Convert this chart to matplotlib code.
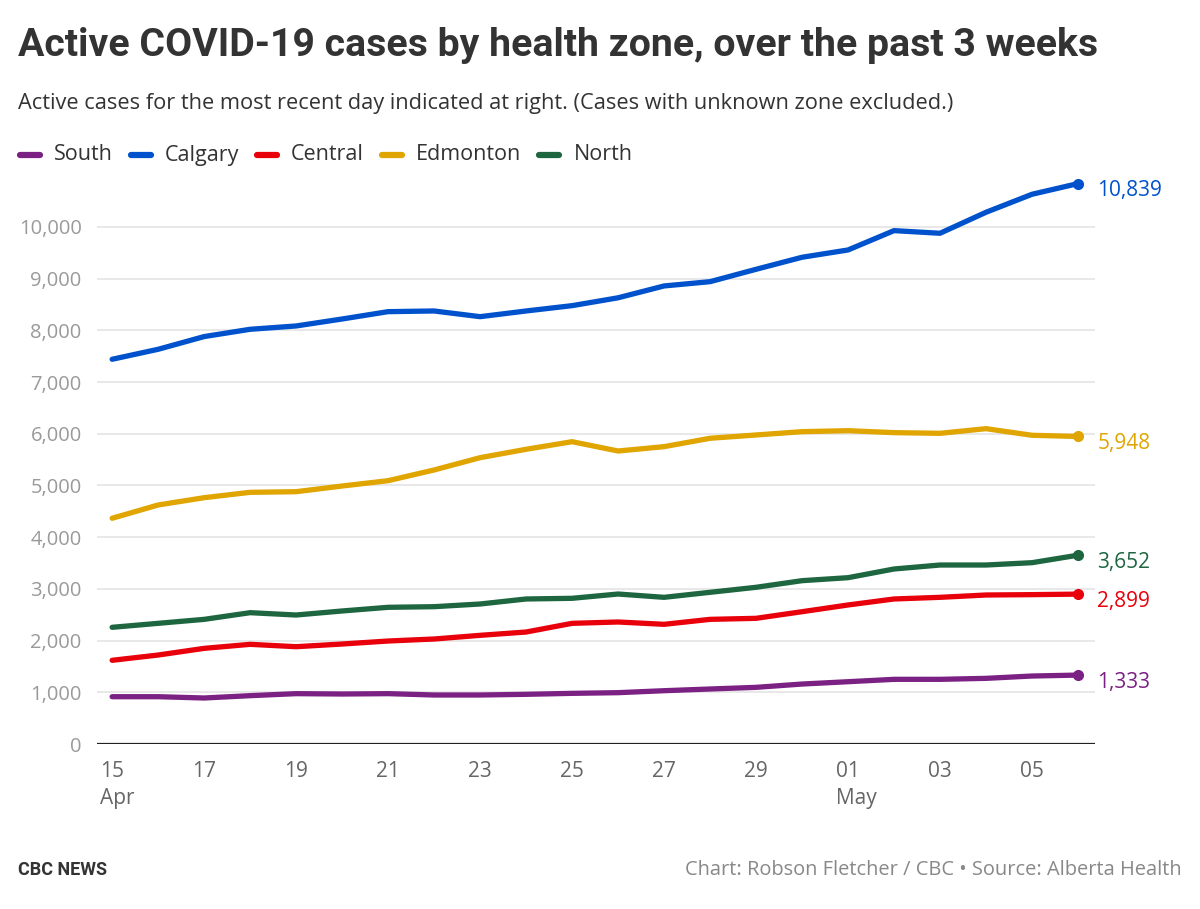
import numpy as np
import pandas as pd
import matplotlib
matplotlib.use('Agg')
import matplotlib.pyplot as plt
import matplotlib.transforms as mtrans
from matplotlib.lines import Line2D

plt.rcParams['font.family'] = ['Open Sans', 'DejaVu Sans']

# data, Apr 15 - May 6
dates = pd.date_range('2021-04-15', '2021-05-06', freq='D')
south = [915, 915, 890, 935, 974, 967, 974, 948, 948, 961, 980,
         993, 1031, 1064, 1096, 1160, 1205, 1251, 1251, 1270, 1315, 1333]
calgary = [7441, 7634, 7880, 8021, 8085, 8220, 8362, 8375, 8265, 8375, 8478,
           8630, 8859, 8942, 9181, 9414, 9555, 9929, 9878, 10284, 10632, 10839]
central = [1619, 1721, 1850, 1928, 1882, 1934, 1992, 2031, 2102, 2166, 2334,
           2360, 2315, 2411, 2431, 2559, 2689, 2805, 2837, 2882, 2889, 2899]
edmonton = [4366, 4623, 4764, 4868, 4880, 4990, 5093, 5300, 5538, 5700, 5847,
            5667, 5751, 5913, 5977, 6041, 6060, 6022, 6009, 6099, 5971, 5948]
north = [2257, 2334, 2411, 2540, 2495, 2573, 2644, 2656, 2708, 2805, 2818,
         2901, 2837, 2934, 3031, 3159, 3217, 3385, 3462, 3462, 3507, 3652]

names = ['South', 'Calgary', 'Central', 'Edmonton', 'North']
series = [south, calgary, central, edmonton, north]
colors = ['#7b2183', '#0052cc', '#e8000b', '#e0a500', '#1d6640']

fig = plt.figure(figsize=(12, 9.09), dpi=100)
ax = fig.add_axes([0.0808, 0.1815, 0.8317, 0.6257])

x = np.arange(len(dates))
for vals, c in zip(series, colors):
    ax.plot(x, vals, color=c, lw=3.8, solid_capstyle='round', solid_joinstyle='round', zorder=3)
    ax.plot(x[-1], vals[-1], 'o', color=c, ms=7, zorder=4)
    ax.annotate(f'{vals[-1]:,}', (x[-1], vals[-1]), xytext=(14, -5), textcoords='offset points',
                color=c, fontsize=15, va='center', ha='left', annotation_clip=False)

ax.set_xlim(-0.33, len(dates) - 1 + 0.37)
ax.set_ylim(0, 11000)
ax.set_yticks(range(0, 10001, 1000))
ax.set_yticklabels([f'{v:,}' for v in range(0, 10001, 1000)])
ax.grid(axis='y', color='#e1e1e1', lw=1.1, zorder=0)
ax.axhline(0, color='#222222', lw=1.6, zorder=2)

tick_idx = list(range(0, len(dates), 2))
tick_lbl = []
for i in tick_idx:
    d = dates[i]
    lbl = d.strftime('%d')
    if i == 0 or d.day == 1:
        lbl += '\n' + d.strftime('%b')
    tick_lbl.append(lbl)
ax.set_xticks(tick_idx)
ax.set_xticklabels(tick_lbl, ha='left', linespacing=1.4)

ax.tick_params(axis='x', length=0, pad=12, labelsize=15, labelcolor='#666666')
ax.tick_params(axis='y', length=0, pad=11, labelsize=14.5, labelcolor='#9a9a9a')
for s in ax.spines.values():
    s.set_visible(False)

# x labels start a bit left of the point
off = mtrans.ScaledTranslation(-12 / 100, 0, fig.dpi_scale_trans)
for t in ax.get_xticklabels():
    t.set_transform(t.get_transform() + off)

fig.text(18 / 1200, 1 - 45 / 909, 'Active COVID-19 cases by health zone, over the past 3 weeks',
         fontsize=28.3, fontweight='bold', color='#333333', va='center', family='Roboto')
fig.text(18 / 1200, 1 - 103 / 909,
         'Active cases for the most recent day indicated at right. (Cases with unknown zone excluded.)',
         fontsize=15.7, color='#333333', va='center')

# legend drawn by hand
fig.canvas.draw()
r = fig.canvas.get_renderer()
lx = 18
ly = 1 - 155 / 909
for n, c in zip(names, colors):
    fig.add_artist(Line2D([(lx + 2) / 1200, (lx + 22) / 1200], [ly, ly], color=c, lw=4.5,
                          solid_capstyle='round', transform=fig.transFigure))
    t = fig.text((lx + 36) / 1200, ly, n, fontsize=15.5, color='#333333', va='center')
    w = t.get_window_extent(r).width
    lx = lx + 36 + w + 16

fig.text(18 / 1200, 1 - 870 / 909, 'CBC NEWS', fontsize=13, fontweight='bold',
         color='#333333', va='center', family='Roboto')
fig.text(1182 / 1200, 1 - 870 / 909, 'Chart: Robson Fletcher / CBC • Source: Alberta Health',
         fontsize=14.4, color='#888888', va='center', ha='right')

fig.savefig('out.png', dpi=100, facecolor='white')
